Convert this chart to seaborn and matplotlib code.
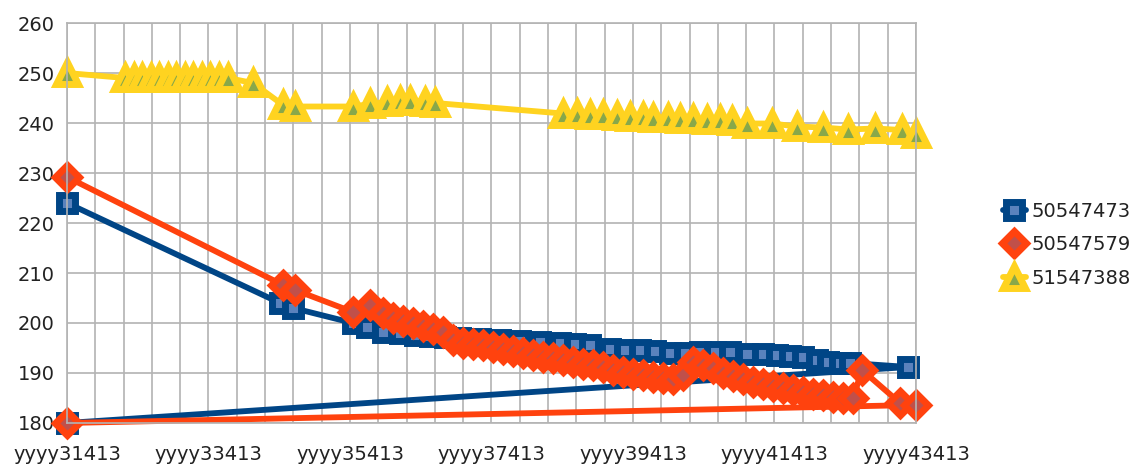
import numpy as np
import pandas as pd
import seaborn as sns
import matplotlib.pyplot as plt
from matplotlib.ticker import MultipleLocator, FixedLocator

# values
tick_values = [31413, 33413, 35413, 37413, 39413, 41413, 43413]
tick_labels = ["yyyy" + str(v) for v in tick_values]

blue_name = "50547473"
blue_x = [31413, 34424, 34607, 35455, 35653, 35879, 36120, 36332, 36544, 36756,
          36968, 37250, 37533, 37816, 38098, 38381, 38593, 38805, 39088, 39300,
          39512, 39724, 39936, 40148, 40360, 40572, 40784, 41024, 41250, 41448,
          41632, 41816, 42013, 42169, 42339, 42480, 43300, 31413]
blue_y = [224, 204, 203, 200, 199.2, 198.2, 198, 197.6, 197.4, 197.2,
          197, 196.8, 196.6, 196.4, 196.2, 196, 195.8, 195.5, 194.8, 194.6,
          194.5, 194.3, 194, 194, 194.2, 194.2, 194.1, 193.8, 193.8, 193.6,
          193.4, 193.2, 192.6, 192.2, 192, 192, 191.2, 180]

orange_name = "50547579"
orange_x = [31413, 34466, 34636, 35455, 35696, 35879, 36021, 36162, 36303, 36445,
            36586, 36727, 36869, 37010, 37151, 37293, 37434, 37575, 37717, 37858,
            37999, 38141, 38282, 38423, 38565, 38706, 38847, 38989, 39130, 39272,
            39413, 39554, 39696, 39837, 39978, 40120, 40261, 40402, 40544, 40685,
            40826, 40968, 41109, 41250, 41392, 41533, 41674, 41816, 41957, 42098,
            42240, 42381, 42522, 42650, 43187, 43413, 31413]
orange_y = [229.2, 207.6, 206.6, 202.2, 203.6, 202, 201, 200.4, 200, 199.4,
            198.8, 198.2, 196.6, 196, 195.8, 195.5, 195.2, 194.8, 194.4, 194,
            193.6, 193.2, 193, 192.6, 192.2, 191.8, 191.5, 191.1, 190.6, 190.2,
            189.8, 189.5, 189.2, 189, 188.8, 189.5, 192.2, 191.6, 191, 190,
            189.4, 188.8, 188.2, 187.8, 187.4, 187, 186.6, 186.2, 185.8, 185.5,
            185.2, 185, 185, 190.6, 184, 183.6, 180]

yellow_name = "51547388"
yellow_x = [31413, 32233, 32360, 32473, 32600, 32713, 32841, 32954, 33081, 33194,
            33321, 33434, 33561, 33689, 34042, 34466, 34636, 35455, 35696, 35936,
            36120, 36261, 36473, 36614, 38423, 38621, 38805, 38989, 39187, 39370,
            39554, 39696, 39908, 40077, 40261, 40459, 40643, 40812, 41024, 41377,
            41731, 42098, 42452, 42833, 43215, 43413]
yellow_y = [250, 249, 249, 249, 249, 249, 249, 249, 249, 249,
            249, 249, 249, 249, 248, 243.6, 243.3, 243.3, 243.8, 244.2,
            244.4, 244.5, 244.3, 244.0, 241.9, 241.8, 241.7, 241.6, 241.5, 241.3,
            241.2, 241.1, 241.0, 240.9, 240.8, 240.7, 240.6, 240.5, 239.9, 239.9,
            239.3, 239.1, 238.7, 238.9, 238.6, 237.8]

sns.set_theme(style="white")
plt.rcParams["font.family"] = ["DejaVu Sans"]

fig, ax = plt.subplots(figsize=(11.43, 4.66), dpi=100)
fig.subplots_adjust(left=0.0586, right=0.8014, top=0.9506, bottom=0.0923)

series = [
    (blue_name, blue_x, blue_y, "#004586", "#5a82bd", "s", 12),
    (orange_name, orange_x, orange_y, "#ff420e", "#c0504a", "D", 12.5),
    (yellow_name, yellow_x, yellow_y, "#ffd320", "#88a84a", "^", 16),
]
for name, xs, ys, col, face, mk, ms in series:
    sns.lineplot(x=xs, y=ys, sort=False, estimator=None, ax=ax, color=col,
                 linewidth=4.2, marker=mk, markersize=ms,
                 markerfacecolor=face, markeredgecolor=col,
                 markeredgewidth=5, label=name, clip_on=False)

ax.set_xlim(31413, 43413)
ax.set_ylim(180, 260)
ax.xaxis.set_major_locator(FixedLocator(tick_values))
ax.xaxis.set_minor_locator(MultipleLocator(400, offset=31413 % 400))
ax.set_xticklabels(tick_labels)
ax.yaxis.set_major_locator(MultipleLocator(10))
ax.grid(True, which="both", color="#b3b3b3", linewidth=1.2)
ax.set_axisbelow(True)
for sp in ax.spines.values():
    sp.set_color("#b3b3b3")
    sp.set_linewidth(1.2)
ax.tick_params(axis="both", which="both", length=0, labelsize=14,
               labelcolor="#222222")
ax.tick_params(axis="x", pad=16)
ax.tick_params(axis="y", pad=9)
ax.set_xlabel("")
ax.set_ylabel("")

handles, labels = ax.get_legend_handles_labels()
ax.get_legend().remove()
fig.legend(handles, labels, loc="center left", bbox_to_anchor=(0.862, 0.475),
           frameon=False, fontsize=14, handlelength=1.2, handletextpad=0.3,
           labelspacing=0.75, labelcolor="#222222")

plt.savefig("out.png", dpi=100)
